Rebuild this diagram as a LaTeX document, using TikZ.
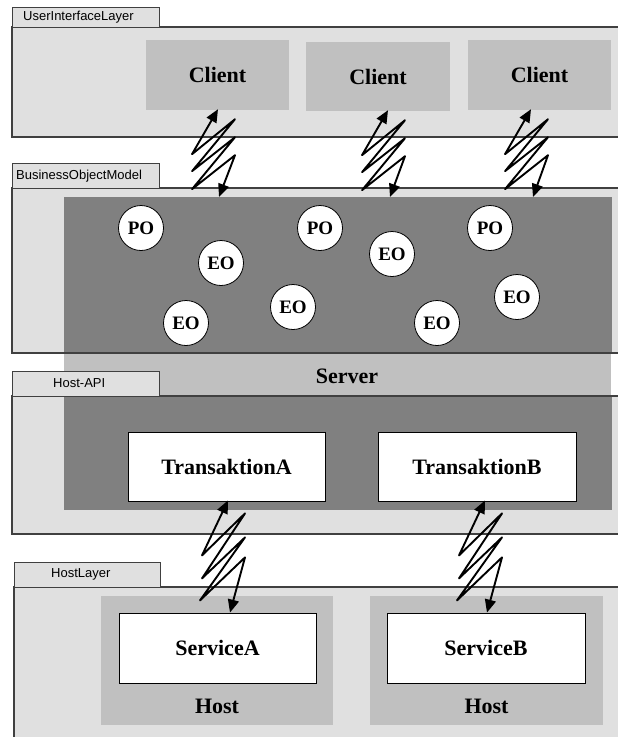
\documentclass[tikz,border=0pt]{standalone}
\usepackage{fontspec}
\setmainfont{Liberation Serif}
\setsansfont{Liberation Sans}
\usetikzlibrary{arrows.meta,calc}
\definecolor{layerfill}{HTML}{E0E0E0}
\definecolor{boxgray}{HTML}{C0C0C0}
\definecolor{servdark}{HTML}{808080}
\definecolor{edgegray}{HTML}{404040}

\begin{document}
\begin{tikzpicture}[x=1pt,y=-1pt,
  layerline/.style={draw=edgegray, line width=1.1pt},
  tabbox/.style={draw=edgegray, fill=layerfill, line width=1pt},
  tablabel/.style={anchor=west, inner sep=0pt, font=\sffamily\fontsize{13}{15}\selectfont},
  graybox/.style={fill=boxgray, inner sep=0pt, font=\bfseries\fontsize{22}{26}\selectfont},
  whitebox/.style={draw=black, fill=white, line width=0.8pt, inner sep=0pt,
                   font=\bfseries\fontsize{22}{26}\selectfont},
  biglabel/.style={inner sep=0pt, font=\bfseries\fontsize{22}{26}\selectfont},
  obj/.style={circle, draw=black, fill=white, line width=0.8pt, minimum size=45pt,
              inner sep=0pt, font=\bfseries\fontsize{19}{22}\selectfont},
  zig/.style={draw=black, line width=1.9pt, line join=round,
              {Triangle[length=13pt,width=11pt]}-{Triangle[length=13pt,width=11pt]}}
]
\useasboundingbox (0,0) rectangle (618,737);
\clip (0,0) rectangle (618,737);

% layer backgrounds
\fill[layerfill] (12,27) rectangle (640,137);
\fill[layerfill] (12,188) rectangle (640,353);
\fill[layerfill] (12,396) rectangle (640,534);
\fill[layerfill] (14,587) rectangle (640,760);

% clients
\node[graybox, minimum width=143pt, minimum height=70pt] (cl1) at (217.5,75) {Client};
\node[graybox, minimum width=144pt, minimum height=69pt] (cl2) at (378,76.5) {Client};
\node[graybox, minimum width=143pt, minimum height=70pt] (cl3) at (539.5,75) {Client};

% server
\fill[boxgray] (64,197) rectangle (611,510);
\fill[servdark] (64,197) rectangle (612,353);
\fill[servdark] (64,396) rectangle (612,510);
\node[biglabel] (srv) at (347,376) {Server};

% layer outlines
\draw[layerline] (640,27) -- (12,27) -- (12,137) -- (640,137);
\draw[layerline] (640,188) -- (12,188) -- (12,353) -- (640,353);
\draw[layerline] (640,396) -- (12,396) -- (12,534) -- (640,534);
\draw[layerline] (640,587) -- (14,587) -- (14,760);

% layer tabs
\draw[tabbox] (12,7) rectangle (159,27);
\draw[tabbox] (12,163) rectangle (159,188);
\draw[tabbox] (12,371) rectangle (159,396);
\draw[tabbox] (14,562) rectangle (160,587);
\node[tablabel] (tUI) at (23,17) {UserInterfaceLayer};
\node[tablabel] (tBO) at (16,176) {BusinessObjectModel};
\node[tablabel] (tHA) at (53,383) {Host-API};
\node[tablabel] (tHL) at (51,574) {HostLayer};

% business objects
\node[obj] (po1) at (141,228) {PO};
\node[obj] (po2) at (320,228) {PO};
\node[obj] (po3) at (490,228) {PO};
\node[obj] (eo1) at (221,263) {EO};
\node[obj] (eo2) at (392,254) {EO};
\node[obj] (eo3) at (293,307) {EO};
\node[obj] (eo4) at (517,297) {EO};
\node[obj] (eo5) at (186,323) {EO};
\node[obj] (eo6) at (437,323) {EO};

% transactions
\node[whitebox, minimum width=197pt, minimum height=69pt] (ta) at (226.5,466.5) {TransaktionA};
\node[whitebox, minimum width=198pt, minimum height=69pt] (tb) at (477,466.5) {TransaktionB};

% hosts
\node[fill=boxgray, minimum width=232pt, minimum height=129pt] (ha) at (217,660.5) {};
\node[fill=boxgray, minimum width=233pt, minimum height=129pt] (hb) at (486.5,660.5) {};
\node[biglabel] (hal) at (217,706) {Host};
\node[biglabel] (hbl) at (486.5,706) {Host};
\node[whitebox, minimum width=197pt, minimum height=70pt] (sa) at (217.5,648) {ServiceA};
\node[whitebox, minimum width=198pt, minimum height=70pt] (sb) at (486,648) {ServiceB};

% server entry points
\coordinate (e1) at (219,197);
\coordinate (e2) at (390,197);
\coordinate (e3) at (533,197);

% client <-> server links
\draw[zig] ($(cl1.south)+(0.5,-1)$) -- ++(-26,45) -- ++(43,-35) -- ++(-43,52)
  -- ++(43,-34) -- ++(-43,52) -- ++(43,-34) -- (e1);
\draw[zig] ($(cl2.south)+(10,-1)$) -- ++(-26,45) -- ++(43,-35) -- ++(-43,52)
  -- ++(43,-34) -- ++(-43,52) -- ++(43,-34) -- (e2);
\draw[zig] ($(cl3.south)+(-8.5,-1)$) -- ++(-26,45) -- ++(43,-35) -- ++(-43,52)
  -- ++(43,-34) -- ++(-43,52) -- ++(43,-34) -- (e3);

% transaction <-> service links
\draw[zig] ($(ta.south)+(1.5,-1)$) -- ++(-26,55) -- ++(43,-42) -- ++(-43,65)
  -- ++(43,-41) -- ++(-45,63) -- ++(45,-43) -- ($(sa.north)+(12.5,0)$);
\draw[zig] ($(tb.south)+(8,-1)$) -- ++(-26,55) -- ++(43,-42) -- ++(-43,65)
  -- ++(43,-41) -- ++(-45,63) -- ++(45,-43) -- ($(sb.north)+(1,0)$);
\end{tikzpicture}
\end{document}
